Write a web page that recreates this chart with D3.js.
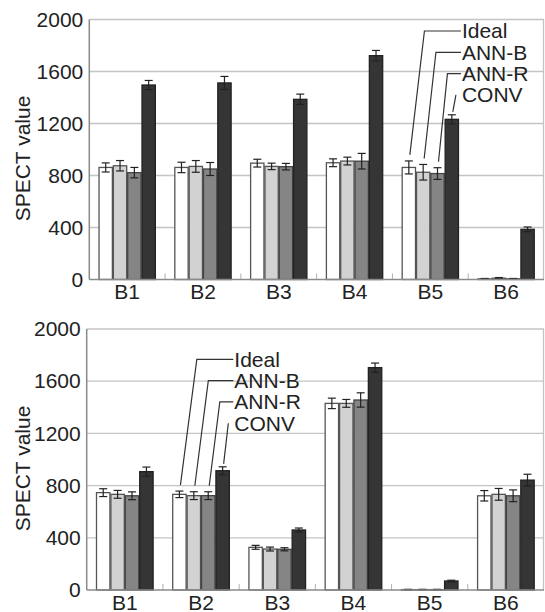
<!DOCTYPE html>
<html>
<head>
<meta charset="utf-8">
<script src="https://cdn.jsdelivr.net/npm/d3@7/dist/d3.min.js"></script>
<style>
  html, body { margin: 0; padding: 0; background: #fff; }
  svg { display: block; }
  text { font-family: "Liberation Sans", Arial, sans-serif; fill: #222; }
</style>
</head>
<body>
<svg id="chart" width="545" height="612"></svg>
<script>
// ---- data ----
const categories = ["B1", "B2", "B3", "B4", "B5", "B6"];
const series = ["Ideal", "ANN-B", "ANN-R", "CONV"];
const yTicks = [0, 400, 800, 1200, 1600, 2000];

// top panel
const topIdeal = [862, 862, 895, 898, 862, 5];
const topAnnB  = [875, 870, 870, 911, 825, 10];
const topAnnR  = [822, 850, 868, 910, 815, 5];
const topConv  = [1496, 1512, 1386, 1722, 1232, 386];
const topIdealErr = [35, 40, 30, 30, 50, 3];
const topAnnBErr  = [40, 45, 25, 30, 60, 5];
const topAnnRErr  = [40, 50, 25, 60, 45, 3];
const topConvErr  = [35, 50, 40, 40, 35, 18];

// bottom panel
const botIdeal = [746, 733, 327, 1430, 3, 722];
const botAnnB  = [733, 723, 314, 1430, 3, 733];
const botAnnR  = [722, 723, 312, 1456, 3, 722];
const botConv  = [907, 914, 460, 1704, 69, 842];
const botIdealErr = [30, 25, 15, 40, 2, 40];
const botAnnBErr  = [30, 30, 15, 30, 2, 45];
const botAnnRErr  = [30, 30, 12, 55, 2, 45];
const botConvErr  = [35, 30, 15, 35, 6, 45];

// ---- styling ----
const fills = ["#ffffff", "#d2d2d2", "#858585", "#353535"];
const strokes = ["#555555", "#555555", "#444444", "#222222"];

const svg = d3.select("#chart");

function drawPanel(cfg) {
  const g = svg.append("g");
  const x0 = d3.scaleBand().domain(categories).range([cfg.left, cfg.right]).paddingInner(0).paddingOuter(0);
  const bw = x0.bandwidth();
  const pad = bw * 0.122;
  const x1 = d3.scaleBand().domain(series).range([pad, bw - pad]).padding(0);
  const y = d3.scaleLinear().domain([0, 2000]).range([cfg.bottom, cfg.top]);

  // gridlines
  g.append("g").selectAll("line").data(yTicks.filter(d => d > 0)).join("line")
    .attr("x1", cfg.left).attr("x2", cfg.right)
    .attr("y1", d => y(d)).attr("y2", d => y(d))
    .attr("stroke", "#c4c4c4").attr("stroke-width", 1.3);

  // right border
  g.append("line").attr("x1", cfg.right - 0.5).attr("x2", cfg.right - 0.5)
    .attr("y1", cfg.top).attr("y2", cfg.bottom).attr("stroke", "#c4c4c4").attr("stroke-width", 1.3);

  // group separator ticks
  g.append("g").selectAll("line").data(categories.slice(1)).join("line")
    .attr("x1", d => x0(d)).attr("x2", d => x0(d))
    .attr("y1", cfg.bottom - 6).attr("y2", cfg.bottom)
    .attr("stroke", "#b0b0b0").attr("stroke-width", 1);

  // bars
  const rows = categories.map((c, i) => ({
    cat: c,
    vals: series.map((s, j) => ({ s, j, v: cfg.values[j][i], e: cfg.errors[j][i] }))
  }));
  const grp = g.append("g").selectAll("g").data(rows).join("g")
    .attr("transform", d => `translate(${x0(d.cat)},0)`);
  grp.selectAll("rect").data(d => d.vals).join("rect")
    .attr("x", d => x1(d.s) + 0.5).attr("width", x1.bandwidth() - 1)
    .attr("y", d => y(d.v)).attr("height", d => Math.max(0.5, y(0) - y(d.v)))
    .attr("fill", d => fills[d.j]).attr("stroke", d => strokes[d.j]).attr("stroke-width", 1.3);

  // error bars
  const eb = grp.selectAll("g.eb").data(d => d.vals).join("g").attr("class", "eb");
  const cx = d => x1(d.s) + x1.bandwidth() / 2;
  eb.append("line").attr("x1", cx).attr("x2", cx)
    .attr("y1", d => y(d.v + d.e)).attr("y2", d => y(Math.max(0, d.v - d.e)))
    .attr("stroke", "#222").attr("stroke-width", 1.2);
  eb.append("line").attr("x1", d => cx(d) - 4).attr("x2", d => cx(d) + 4)
    .attr("y1", d => y(d.v + d.e)).attr("y2", d => y(d.v + d.e))
    .attr("stroke", "#222").attr("stroke-width", 1.2);
  eb.append("line").attr("x1", d => cx(d) - 4).attr("x2", d => cx(d) + 4)
    .attr("y1", d => y(Math.max(0, d.v - d.e))).attr("y2", d => y(Math.max(0, d.v - d.e)))
    .attr("stroke", "#222").attr("stroke-width", 1.2);

  // left axis line and bottom axis line
  g.append("line").attr("x1", cfg.left).attr("x2", cfg.left).attr("y1", cfg.top).attr("y2", cfg.bottom)
    .attr("stroke", "#8a8a8a").attr("stroke-width", 1.5);
  g.append("line").attr("x1", cfg.left).attr("x2", cfg.right).attr("y1", cfg.bottom).attr("y2", cfg.bottom)
    .attr("stroke", "#8a8a8a").attr("stroke-width", 1.5);

  // y tick labels
  const yAxis = d3.axisLeft(y).tickValues(yTicks).tickSize(0).tickPadding(6).tickFormat(d3.format("d"));
  const ya = g.append("g").attr("transform", `translate(${cfg.left},0)`).call(yAxis);
  ya.select(".domain").remove();
  ya.selectAll("text").attr("font-size", 21).attr("fill", "#222")
    .style("font-family", '"Liberation Sans", Arial, sans-serif');

  // x labels
  const xAxis = d3.axisBottom(x0).tickSize(0).tickPadding(5);
  const xa = g.append("g").attr("transform", `translate(0,${cfg.bottom})`).call(xAxis);
  xa.select(".domain").remove();
  xa.selectAll("text").attr("font-size", 21).attr("fill", "#222")
    .style("font-family", '"Liberation Sans", Arial, sans-serif');

  // y title
  g.append("text").attr("transform", `translate(30,${(cfg.top + cfg.bottom) / 2 + 9}) rotate(-90)`)
    .attr("text-anchor", "middle").attr("font-size", 21).text("SPECT value");

  // leader-line annotations
  const ac = cfg.annotCat;
  const ci = categories.indexOf(ac);
  const tx = x0(ac) + cfg.annotDx;
  series.forEach((s, j) => {
    const ty = cfg.annotY0 + j * 21.3;
    const bx = x0(ac) + x1(s) + x1.bandwidth() / 2 + 1;
    const top = y(cfg.values[j][ci] + cfg.errors[j][ci]);
    g.append("text").attr("x", tx).attr("y", ty).attr("dy", "0.35em")
      .attr("font-size", 21).text(s);
    let pts;
    if (j < 3) {
      const ex = tx - 37.5 + j * 11.5;
      pts = [[tx - 1, ty], [ex, ty], [bx, top - 6]];
    } else {
      pts = [[tx - 6, ty], [bx, top - 3]];
    }
    g.append("path").attr("d", d3.line()(pts)).attr("fill", "none")
      .attr("stroke", "#333").attr("stroke-width", 1.2);
  });
}

drawPanel({
  left: 89.3, right: 544, top: 19.5, bottom: 279.5,
  values: [topIdeal, topAnnB, topAnnR, topConv],
  errors: [topIdealErr, topAnnBErr, topAnnRErr, topConvErr],
  annotCat: "B5", annotDx: 69.5, annotY0: 31
});
drawPanel({
  left: 86.7, right: 544, top: 329, bottom: 590,
  values: [botIdeal, botAnnB, botAnnR, botConv],
  errors: [botIdealErr, botAnnBErr, botAnnRErr, botConvErr],
  annotCat: "B2", annotDx: 71.4, annotY0: 359.3
});
</script>
</body>
</html>
